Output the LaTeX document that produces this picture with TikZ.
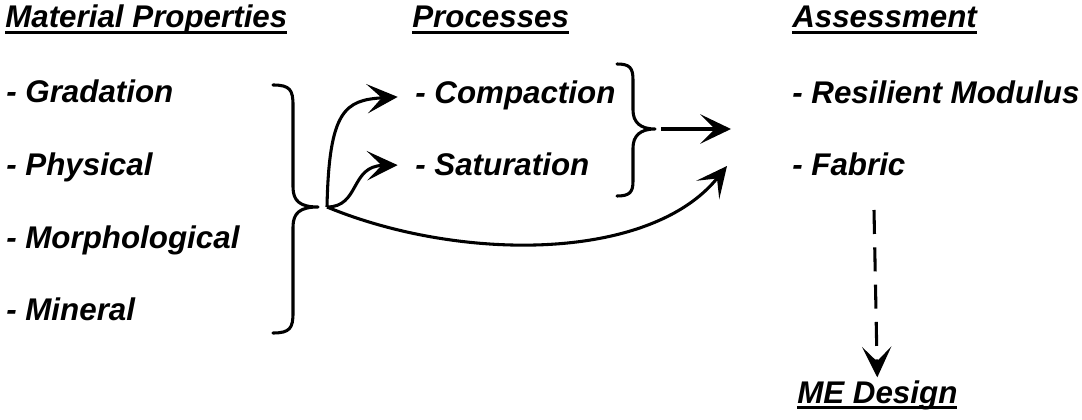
\documentclass[tikz,border=0pt]{standalone}
\usepackage{fontspec}
\setmainfont{Liberation Sans}
\usetikzlibrary{arrows.meta}

\newcommand{\headul}[1]{\setbox0\hbox{#1}\rlap{\rule[-4.2pt]{\wd0}{2.2pt}}\box0}

\tikzset{
  item/.style={anchor=base west, inner sep=0pt, font=\fontsize{23.5}{28}\selectfont\bfseries\itshape},
  link/.style={line width=2.3pt, -{Stealth[length=23pt,width=22pt,inset=11pt]}},
  brace/.style={line width=2.3pt, line cap=round, line join=round}
}

\begin{document}
\begin{tikzpicture}[x=0.75pt,y=-0.75pt]
\useasboundingbox (0,0) rectangle (1082,420);

% headings
\node[item] (mathead) at (5,28) {\headul{Material Properties}};
\node[item] (prohead) at (412,28) {\headul{Processes}};
\node[item] (asshead) at (792,28) {\headul{Assessment}};

% material properties
\node[item] (gradation) at (6,103) {- Gradation};
\node[item] (physical) at (6,176) {- Physical};
\node[item] (morpho) at (6,249) {- Morphological};
\node[item] (mineral) at (6,321) {- Mineral};

% processes
\node[item] (compaction) at (415,104) {- Compaction};
\node[item] (saturation) at (415,176) {- Saturation};

% assessment
\node[item] (resilient) at (792,104) {- Resilient Modulus};
\node[item] (fabric) at (792,176) {- Fabric};
\node[item] (medesign) at (797,403) {\headul{ME Design}};

% braces
\draw[brace] (273,85) .. controls (290,85) and (293,90) .. (293,105) -- (293,187)
  .. controls (293,201) and (300,207) .. (318,207)
  .. controls (300,207) and (293,213) .. (293,227) -- (293,313)
  .. controls (293,328) and (290,333) .. (273,333);
\draw[brace] (617,64) .. controls (630,64) and (633,68) .. (633,80) -- (633,110)
  .. controls (633,122) and (640,129) .. (655,129)
  .. controls (640,129) and (633,136) .. (633,148) -- (633,181)
  .. controls (633,192) and (630,196) .. (617,196);

\coordinate (split) at (327,207);
\coordinate (join) at (661,129);
\coordinate (result) at (731,129);
\coordinate (toassess) at (727,166);
\coordinate (fabdown) at (874,210);

% arrows
\draw[link, shorten >=13pt] (split) .. controls (329,110) and (345,100) .. (compaction.west);
\draw[link, shorten >=13pt] (split) .. controls (360,207) and (350,166) .. (saturation.west);
\draw[link] (split) .. controls (460,262) and (650,262) .. (toassess);
\draw[link] (join) -- (result);
\draw[link, dash pattern=on 18pt off 10pt, shorten >=2pt] (fabdown) -- (medesign.north);

\end{tikzpicture}
\end{document}
